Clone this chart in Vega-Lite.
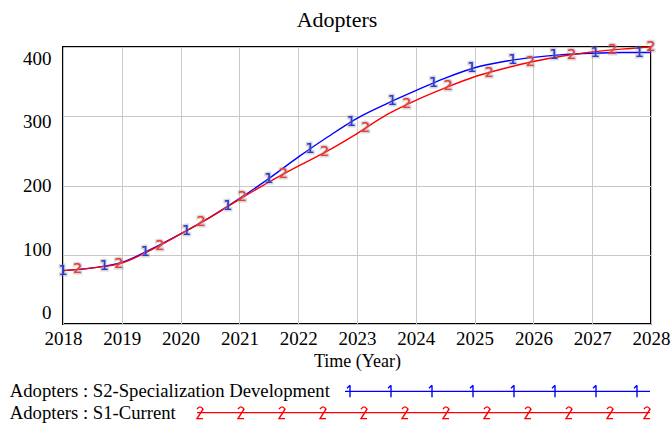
{
  "$schema": "https://vega.github.io/schema/vega-lite/v6.json",
  "autosize": {"type": "none"},
  "padding": {"left": 63, "top": 47, "right": 20, "bottom": 100},
  "width": 588,
  "height": 277,
  "background": "white",
  "title": {"text": "Adopters", "font": "Liberation Serif", "fontSize": 22, "fontWeight": "normal", "color": "black", "anchor": "middle", "dx": -20, "offset": 8},
  "config": {
    "view": {"stroke": "black", "strokeWidth": 2},
    "axis": {"gridColor": "#c8c8c8", "gridWidth": 1, "domain": false, "ticks": false, "labelFont": "Liberation Serif", "labelColor": "black", "titleFont": "Liberation Serif", "titleColor": "black", "titleFontWeight": "normal"}
  },
  "datasets": {
    "lines": [
      {"t": 2018, "v": 77, "series": "Adopters : S2-Specialization Development"},
      {"t": 2018.5, "v": 81, "series": "Adopters : S2-Specialization Development"},
      {"t": 2019, "v": 89, "series": "Adopters : S2-Specialization Development"},
      {"t": 2019.5, "v": 108, "series": "Adopters : S2-Specialization Development"},
      {"t": 2020, "v": 130, "series": "Adopters : S2-Specialization Development"},
      {"t": 2020.5, "v": 154, "series": "Adopters : S2-Specialization Development"},
      {"t": 2021, "v": 181, "series": "Adopters : S2-Specialization Development"},
      {"t": 2021.5, "v": 210, "series": "Adopters : S2-Specialization Development"},
      {"t": 2022, "v": 241, "series": "Adopters : S2-Specialization Development"},
      {"t": 2022.5, "v": 270, "series": "Adopters : S2-Specialization Development"},
      {"t": 2023, "v": 297, "series": "Adopters : S2-Specialization Development"},
      {"t": 2023.5, "v": 318, "series": "Adopters : S2-Specialization Development"},
      {"t": 2024, "v": 337, "series": "Adopters : S2-Specialization Development"},
      {"t": 2024.5, "v": 355, "series": "Adopters : S2-Specialization Development"},
      {"t": 2025, "v": 370, "series": "Adopters : S2-Specialization Development"},
      {"t": 2025.5, "v": 379, "series": "Adopters : S2-Specialization Development"},
      {"t": 2026, "v": 385, "series": "Adopters : S2-Specialization Development"},
      {"t": 2026.5, "v": 389, "series": "Adopters : S2-Specialization Development"},
      {"t": 2027, "v": 391, "series": "Adopters : S2-Specialization Development"},
      {"t": 2027.5, "v": 392, "series": "Adopters : S2-Specialization Development"},
      {"t": 2028, "v": 392, "series": "Adopters : S2-Specialization Development"},
      {"t": 2018, "v": 77, "series": "Adopters : S1-Current"},
      {"t": 2018.5, "v": 81, "series": "Adopters : S1-Current"},
      {"t": 2019, "v": 88, "series": "Adopters : S1-Current"},
      {"t": 2019.5, "v": 107, "series": "Adopters : S1-Current"},
      {"t": 2020, "v": 130, "series": "Adopters : S1-Current"},
      {"t": 2020.5, "v": 154, "series": "Adopters : S1-Current"},
      {"t": 2021, "v": 180, "series": "Adopters : S1-Current"},
      {"t": 2021.5, "v": 205, "series": "Adopters : S1-Current"},
      {"t": 2022, "v": 228, "series": "Adopters : S1-Current"},
      {"t": 2022.5, "v": 250, "series": "Adopters : S1-Current"},
      {"t": 2023, "v": 275, "series": "Adopters : S1-Current"},
      {"t": 2023.5, "v": 302, "series": "Adopters : S1-Current"},
      {"t": 2024, "v": 323, "series": "Adopters : S1-Current"},
      {"t": 2024.5, "v": 341, "series": "Adopters : S1-Current"},
      {"t": 2025, "v": 357, "series": "Adopters : S1-Current"},
      {"t": 2025.5, "v": 369, "series": "Adopters : S1-Current"},
      {"t": 2026, "v": 379, "series": "Adopters : S1-Current"},
      {"t": 2026.5, "v": 387, "series": "Adopters : S1-Current"},
      {"t": 2027, "v": 393, "series": "Adopters : S1-Current"},
      {"t": 2027.5, "v": 397, "series": "Adopters : S1-Current"},
      {"t": 2028, "v": 400, "series": "Adopters : S1-Current"}
    ],
    "markers": [
      {"t": 2018, "v": 77, "series": "S2", "label": "1"},
      {"t": 2018.7, "v": 84, "series": "S2", "label": "1"},
      {"t": 2019.4, "v": 104, "series": "S2", "label": "1"},
      {"t": 2020.1, "v": 135, "series": "S2", "label": "1"},
      {"t": 2020.8, "v": 170, "series": "S2", "label": "1"},
      {"t": 2021.5, "v": 210, "series": "S2", "label": "1"},
      {"t": 2022.2, "v": 253, "series": "S2", "label": "1"},
      {"t": 2022.9, "v": 292, "series": "S2", "label": "1"},
      {"t": 2023.6, "v": 322, "series": "S2", "label": "1"},
      {"t": 2024.3, "v": 348, "series": "S2", "label": "1"},
      {"t": 2024.95, "v": 369, "series": "S2", "label": "1"},
      {"t": 2025.65, "v": 381, "series": "S2", "label": "1"},
      {"t": 2026.35, "v": 388, "series": "S2", "label": "1"},
      {"t": 2027.05, "v": 391, "series": "S2", "label": "1"},
      {"t": 2027.8, "v": 392, "series": "S2", "label": "1"},
      {"t": 2018.25, "v": 79, "series": "S1", "label": "2"},
      {"t": 2018.95, "v": 87, "series": "S1", "label": "2"},
      {"t": 2019.65, "v": 113, "series": "S1", "label": "2"},
      {"t": 2020.35, "v": 147, "series": "S1", "label": "2"},
      {"t": 2021.05, "v": 183, "series": "S1", "label": "2"},
      {"t": 2021.75, "v": 217, "series": "S1", "label": "2"},
      {"t": 2022.45, "v": 248, "series": "S1", "label": "2"},
      {"t": 2023.15, "v": 283, "series": "S1", "label": "2"},
      {"t": 2023.85, "v": 317, "series": "S1", "label": "2"},
      {"t": 2024.55, "v": 343, "series": "S1", "label": "2"},
      {"t": 2025.25, "v": 363, "series": "S1", "label": "2"},
      {"t": 2025.95, "v": 378, "series": "S1", "label": "2"},
      {"t": 2026.65, "v": 389, "series": "S1", "label": "2"},
      {"t": 2027.35, "v": 396, "series": "S1", "label": "2"},
      {"t": 2028, "v": 400, "series": "S1", "label": "2"}
    ]
  },
  "resolve": {"scale": {"color": "independent"}, "legend": {"color": "independent"}},
  "layer": [
    {
      "data": {"name": "lines"},
      "mark": {"type": "line", "strokeWidth": 1.4, "interpolate": "monotone"},
      "encoding": {
        "x": {"field": "t", "type": "quantitative", "scale": {"domain": [2018, 2028], "nice": false, "zero": false},
          "axis": {"values": [2018, 2019, 2020, 2021, 2022, 2023, 2024, 2025, 2026, 2027, 2028], "format": "d", "labelFontSize": 19, "labelPadding": 5, "labelOverlap": false, "labelBound": false, "labelFlush": false, "title": "Time (Year)", "titleFontSize": 18, "titlePadding": 4}},
        "y": {"field": "v", "type": "quantitative", "scale": {"domain": [0, 400], "nice": false},
          "axis": {"values": [0, 100, 200, 300, 400], "labelFontSize": 19, "labelPadding": 12, "title": null, "labelOverlap": false,
            "labelOffset": {"expr": "(datum.value - 200) * 0.056"}}},
        "color": {"field": "series", "type": "nominal",
          "scale": {"domain": ["Adopters : S2-Specialization Development", "Adopters : S1-Current"], "range": ["#0000ff", "#ff0000"]},
          "legend": {"orient": "none", "legendX": -72, "legendY": 335, "direction": "vertical", "title": null, "padding": 0,
            "labelFont": "Liberation Serif", "labelFontSize": 18.7, "labelColor": "black", "labelOffset": 0, "labelLimit": 600,
            "symbolType": "stroke", "symbolSize": 100, "symbolStrokeWidth": 1.4, "symbolFillColor": "transparent", "rowPadding": 1.3,
            "encode": {"symbols": {"update": {
              "x": {"signal": "datum.value === 'Adopters : S1-Current' ? 206 : 354"},
              "fill": {"value": "transparent"},
              "shape": {"signal": "datum.value === 'Adopters : S1-Current' ? 'M0,0H90.6M0,-0.7Q0.6,-1.6,1.2,-0.7L0,1.2H1.2M8.2,-0.7Q8.8,-1.6,9.4,-0.7L8.2,1.2H9.4M16.4,-0.7Q17,-1.6,17.6,-0.7L16.4,1.2H17.6M24.6,-0.7Q25.2,-1.6,25.8,-0.7L24.6,1.2H25.8M32.8,-0.7Q33.4,-1.6,34,-0.7L32.8,1.2H34M41,-0.7Q41.6,-1.6,42.2,-0.7L41,1.2H42.2M49.2,-0.7Q49.8,-1.6,50.4,-0.7L49.2,1.2H50.4M57.4,-0.7Q58,-1.6,58.6,-0.7L57.4,1.2H58.6M65.6,-0.7Q66.2,-1.6,66.8,-0.7L65.6,1.2H66.8M73.8,-0.7Q74.4,-1.6,75,-0.7L73.8,1.2H75M82,-0.7Q82.6,-1.6,83.2,-0.7L82,1.2H83.2M89.4,-0.7Q90,-1.6,90.6,-0.7L89.4,1.2H90.6' : 'M0,0H61M1,-1.2V1.2M0.4,-0.6L1,-1.2M9.2,-1.2V1.2M8.6,-0.6L9.2,-1.2M17.4,-1.2V1.2M16.8,-0.6L17.4,-1.2M25.6,-1.2V1.2M25,-0.6L25.6,-1.2M33.8,-1.2V1.2M33.2,-0.6L33.8,-1.2M42,-1.2V1.2M41.4,-0.6L42,-1.2M50.2,-1.2V1.2M49.6,-0.6L50.2,-1.2M58.4,-1.2V1.2M57.8,-0.6L58.4,-1.2'"}
            }}}}}
      }
    },
    {
      "data": {"name": "markers"},
      "mark": {"type": "text", "fontSize": 14, "font": "DejaVu Sans", "baseline": "middle", "align": "center", "stroke": "#909090", "strokeWidth": 3, "strokeOpacity": 0.35},
      "encoding": {
        "x": {"field": "t", "type": "quantitative"},
        "y": {"field": "v", "type": "quantitative"},
        "text": {"field": "label"},
        "color": {"field": "series", "type": "nominal", "scale": {"domain": ["S2", "S1"], "range": ["#2a3ad6", "#f03c3c"]}, "legend": null}
      }
    },
    {
      "data": {"name": "markers"},
      "mark": {"type": "text", "fontSize": 14, "font": "DejaVu Sans", "baseline": "middle", "align": "center"},
      "encoding": {
        "x": {"field": "t", "type": "quantitative"},
        "y": {"field": "v", "type": "quantitative"},
        "text": {"field": "label"},
        "color": {"field": "series", "type": "nominal", "scale": {"domain": ["S2", "S1"], "range": ["#2a3ad6", "#f03c3c"]}, "legend": null}
      }
    }
  ]
}
